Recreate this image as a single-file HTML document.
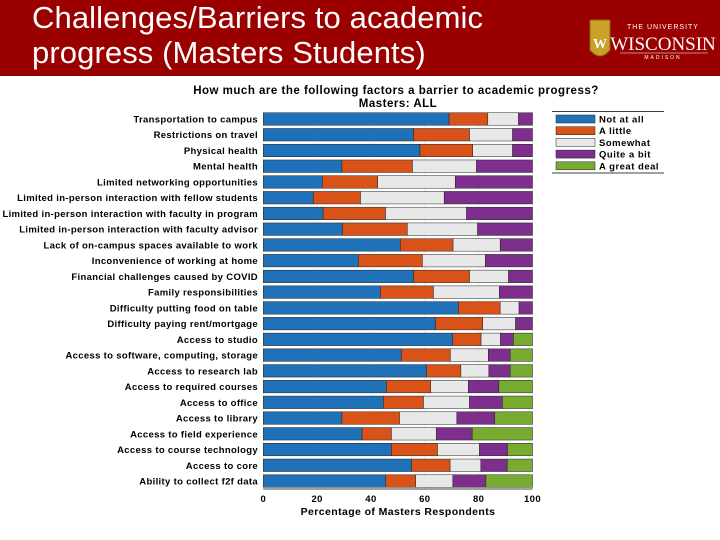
<!DOCTYPE html>
<html><head><meta charset="utf-8"><style>
body{margin:0;width:720px;height:540px;background:#fff;overflow:hidden;font-family:"Liberation Sans",Arial,sans-serif}
#hdr{position:absolute;left:0;top:0;width:720px;height:76px;background:#9b0000}
#ttl{position:absolute;left:32px;top:0px;color:#fff;font-size:31px;line-height:35px;letter-spacing:0.1px}
svg{position:absolute;left:0;top:0}
</style></head><body>
<div id="hdr"></div>
<div id="ttl">Challenges/Barriers to academic<br>progress (Masters Students)</div>
<svg id="logo" width="720" height="76">
<path d="M590 20 L610 20 L610 50 Q600 62 590 50 Z" fill="#c9a227" stroke="#8a6a10"/>
<text x="600" y="48" fill="#fff" font-size="14" text-anchor="middle" font-family="Liberation Serif" font-weight="bold">W</text>
<text x="663" y="29" fill="#fff" font-size="7" text-anchor="middle" letter-spacing="1">THE UNIVERSITY</text>
<text x="663" y="50" fill="#fff" font-size="19" text-anchor="middle" font-family="Liberation Serif">WISCONSIN</text>
<line x1="620" y1="53" x2="708" y2="53" stroke="#fff" stroke-width="0.6"/>
<text x="663" y="59" fill="#fff" font-size="5" text-anchor="middle" letter-spacing="2">MADISON</text>
</svg>
<svg id="chart" width="720" height="540" style="top:0"></svg>
<script>
const categories=["Transportation to campus","Restrictions on travel","Physical health","Mental health","Limited networking opportunities","Limited in-person interaction with fellow students","Limited in-person interaction with faculty in program","Limited in-person interaction with faculty advisor","Lack of on-campus spaces available to work","Inconvenience of working at home","Financial challenges caused by COVID","Family responsibilities","Difficulty putting food on table","Difficulty paying rent/mortgage","Access to studio","Access to software, computing, storage","Access to research lab","Access to required courses","Access to office","Access to library","Access to field experience","Access to course technology","Access to core","Ability to collect f2f data"];
const notAtAll=[69.0,55.8,58.2,29.2,21.9,18.6,22.2,29.4,50.9,35.3,55.8,43.5,72.5,64.0,70.4,51.3,60.7,45.7,44.6,29.2,36.7,47.6,55.1,45.5];
const aLittle=[14.4,20.8,19.6,26.2,20.6,17.5,23.2,24.1,19.6,23.8,20.8,19.7,15.5,17.5,10.5,18.2,12.7,16.5,14.9,21.4,10.9,17.1,14.3,11.1];
const somewhat=[11.4,16.0,14.8,23.8,28.8,31.1,30.1,26.1,17.5,23.4,14.5,24.5,7.0,12.2,7.2,14.1,10.4,14.0,17.1,21.3,16.7,15.6,11.4,13.8];
const quiteABit=[5.2,7.4,7.4,20.8,28.7,32.8,24.5,20.4,12.0,17.5,8.9,12.3,5.0,6.3,4.8,8.1,7.9,11.3,12.2,14.1,13.3,10.4,9.8,12.3];
const greatDeal=[0,0,0,0,0,0,0,0,0,0,0,0,0,0,7.1,8.3,8.3,12.5,11.2,14.0,22.4,9.3,9.4,17.3];
const seriesNames=["Not at all","A little","Somewhat","Quite a bit","A great deal"];
const xTicks=[0,20,40,60,80,100];
const colors=["#1f72b8","#d95319","#e8e8e8","#7e2f8e","#77ac30"];
const NS="http://www.w3.org/2000/svg",svg=document.getElementById('chart');
const X0=263.3,X1=532.5,Y0=119,DY=15.74,BH=12.5;
const xs=v=>X0+(X1-X0)*v/100, ys=i=>Y0+i*DY;
function mk(t,a,txt){const e=document.createElementNS(NS,t);for(const k in a)e.setAttribute(k,a[k]);if(txt!==undefined)e.textContent=txt;svg.appendChild(e);return e;}
let e;
e=mk('text',{x:396,y:94,'text-anchor':'middle','font-size':11.5,'font-weight':'bold','letter-spacing':0.5},'How much are the following factors a barrier to academic progress?');


e=mk('text',{x:398,y:107,'text-anchor':'middle','font-size':11.5,'font-weight':'bold','letter-spacing':0.5},'Masters: ALL');


xTicks.forEach(t=>{
 e=mk('line',{x1:xs(t),x2:xs(t),y1:112,y2:489,stroke:'#ddd','stroke-width':0.5});
 
 
 e=mk('text',{x:xs(t),y:502,'text-anchor':'middle','font-size':9.5,'font-weight':'bold','letter-spacing':0.4},t);
 
 
});
const series=[notAtAll,aLittle,somewhat,quiteABit,greatDeal];
categories.forEach((c,i)=>{
 let cum=0;
 series.forEach((s,k)=>{
  const v=s[i]; if(v<=0)return;
  e=mk('rect',{x:xs(cum),y:ys(i)-BH/2,width:xs(cum+v)-xs(cum),height:BH,fill:colors[k],stroke:'#222','stroke-width':0.5});
  
  
  cum+=v;
 });
 e=mk('text',{x:258,y:ys(i)+3.5,'text-anchor':'end','font-size':9.5,'font-weight':'bold','letter-spacing':0.33},c);
 
 
});
e=mk('line',{x1:X0,x2:X1,y1:489,y2:489,stroke:'#000','stroke-width':0.8});


e=mk('text',{x:398,y:515,'text-anchor':'middle','font-size':10.5,'font-weight':'bold','letter-spacing':0.4},'Percentage of Masters Respondents');


e=mk('line',{x1:552,x2:664,y1:111.5,y2:111.5,stroke:'#000','stroke-width':0.8});


e=mk('line',{x1:552,x2:664,y1:173,y2:173,stroke:'#000','stroke-width':0.8});


seriesNames.forEach((n,k)=>{
 const y=119+k*11.7;
 e=mk('rect',{x:556,y:y-4,width:39,height:8,fill:colors[k],stroke:'#222','stroke-width':0.5});
 
 
 e=mk('text',{x:599,y:y+3.5,'font-size':9.5,'font-weight':'bold','letter-spacing':0.5},n);
 
 
});
</script>
</body></html>
